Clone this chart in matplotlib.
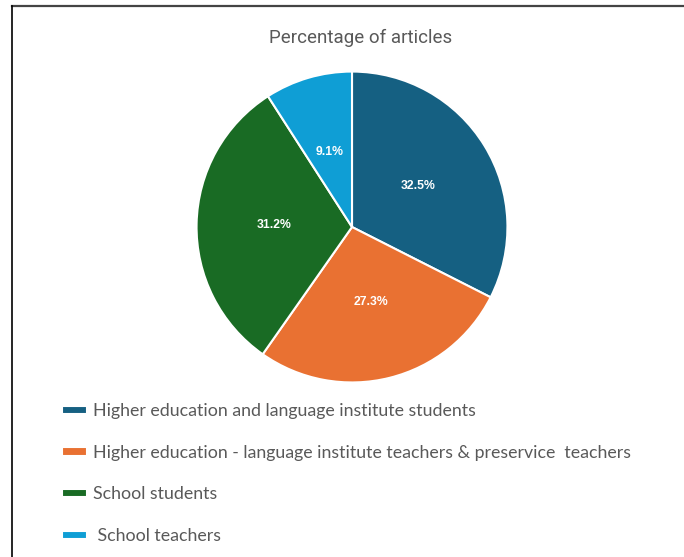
import matplotlib.pyplot as plt
from matplotlib.lines import Line2D

# share of articles per participant group
groups = ["Higher education and language institute students",
          "Higher education - language institute teachers & preservice  teachers",
          "School students",
          " School teachers"]
shares = [32.5, 27.3, 31.2, 9.1]
colors = ["#156082", "#E97132", "#196B24", "#0F9ED5"]

W, H = 684, 557
fig = plt.figure(figsize=(W / 100, H / 100), dpi=100)
fig.patch.set_facecolor("white")

# pie area in pixel terms: centre (352, 227), radius 157
cx, cy, r = 352, 227, 157
ax = fig.add_axes([(cx - r) / W, (H - cy - r) / H, 2 * r / W, 2 * r / H])
wedges, texts, autotexts = ax.pie(
    shares, colors=colors, startangle=90, counterclock=False,
    autopct="%.1f%%", pctdistance=0.5, radius=1,
    wedgeprops=dict(edgecolor="white", linewidth=1.5),
    textprops=dict(color="white", fontsize=8.8, fontweight="bold",
                   family="Liberation Sans"))
ax.set_xlim(-1.01, 1.01)
ax.set_ylim(-1.01, 1.01)
ax.set_aspect("equal")
ax.axis("off")

fig.text(361 / W, 1 - 38 / H, "Percentage of articles", ha="center", va="center",
         fontsize=13.5, color="#595959", family=["Roboto", "DejaVu Sans"])

leg = fig.legend(wedges, groups, loc="upper left",
                 bbox_to_anchor=(55 / W, 1 - 396 / H),
                 frameon=False, labelcolor="#595959",
                 prop=dict(family="Lato", size=12.75),
                 handlelength=1.4, handleheight=0.35, handletextpad=0.35,
                 labelspacing=1.45, borderaxespad=0)

# frame edges
fig.add_artist(Line2D([11.5 / W, 1], [1 - 5.5 / H, 1 - 5.5 / H], color="#444444", lw=1.6))
fig.add_artist(Line2D([11.5 / W, 11.5 / W], [0, 1 - 5.5 / H], color="black", lw=1.2))

fig.savefig("out.png", dpi=100)
